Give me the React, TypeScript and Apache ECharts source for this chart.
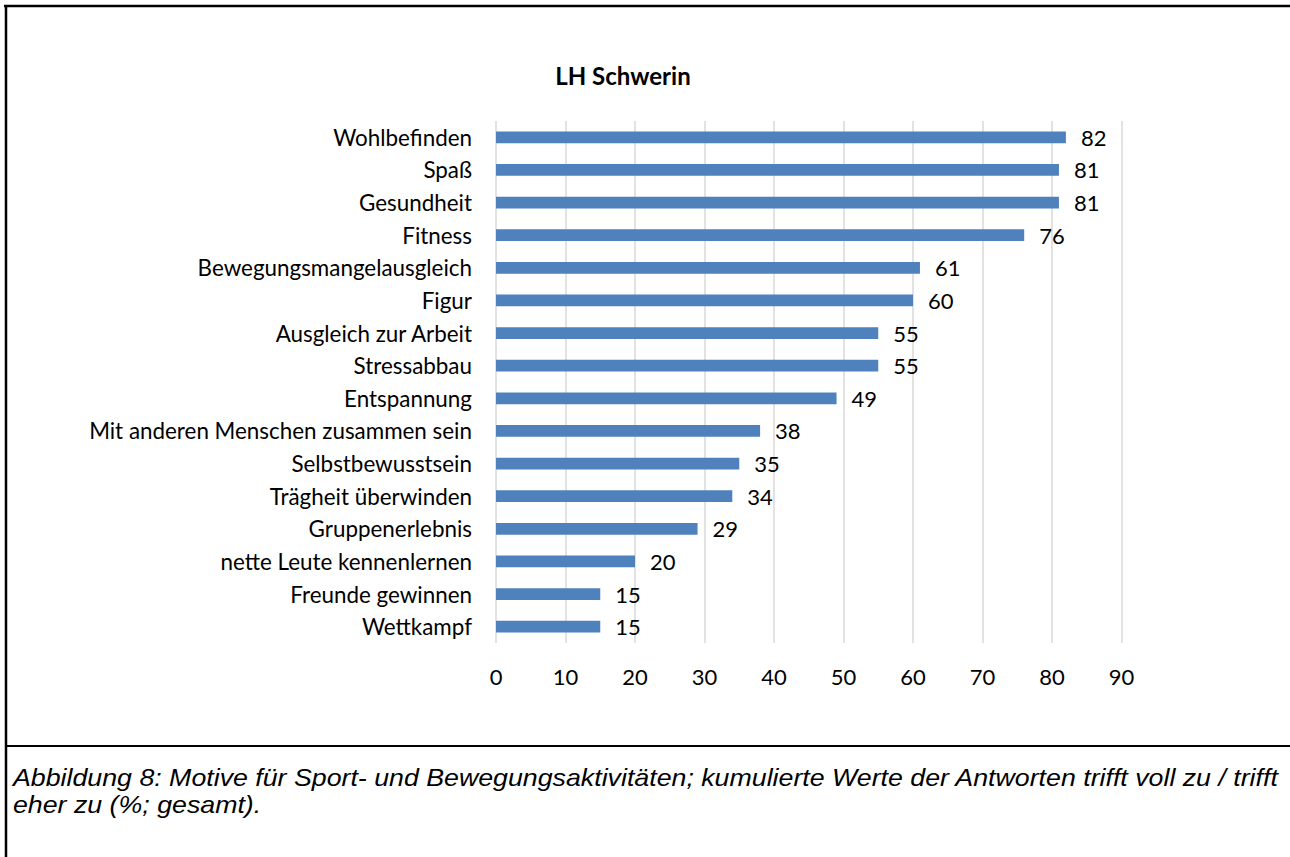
import React, { useEffect, useRef } from "react";
import * as echarts from "echarts";

const categories = [
  "Wohlbefinden",
  "Spaß",
  "Gesundheit",
  "Fitness",
  "Bewegungsmangelausgleich",
  "Figur",
  "Ausgleich zur Arbeit",
  "Stressabbau",
  "Entspannung",
  "Mit anderen Menschen zusammen sein",
  "Selbstbewusstsein",
  "Trägheit überwinden",
  "Gruppenerlebnis",
  "nette Leute kennenlernen",
  "Freunde gewinnen",
  "Wettkampf",
];
const values = [82, 81, 81, 76, 61, 60, 55, 55, 49, 38, 35, 34, 29, 20, 15, 15];
const title = "LH Schwerin";
const caption1 =
  "Abbildung 8: Motive für Sport- und Bewegungsaktivitäten; kumulierte Werte der Antworten trifft voll zu / trifft";
const caption2 = "eher zu (%; gesamt).";

const FONT = "Lato, 'Open Sans', sans-serif";

export default function App() {
  const ref = useRef<HTMLDivElement>(null);
  useEffect(() => {
    if (!ref.current) return;
    const chart = echarts.init(ref.current, null, { renderer: "svg" });
    chart.setOption({
      animation: false,
      backgroundColor: "#ffffff",
      title: {
        text: title,
        left: 618,
        top: 58,
        textAlign: "center",
        textStyle: { fontFamily: FONT, fontSize: 24, fontWeight: "bold", color: "#000" },
      },
      grid: { left: 496, right: 168.5, top: 121, bottom: 214, containLabel: false },
      xAxis: {
        type: "value",
        min: 0,
        max: 90,
        interval: 10,
        axisLine: { show: false },
        axisTick: { show: false },
        splitLine: { show: true, lineStyle: { color: "#d9d9d9", width: 1.5 } },
        axisLabel: { fontFamily: FONT, fontSize: 22, color: "#000", margin: 22 },
      },
      yAxis: {
        type: "category",
        data: categories,
        inverse: true,
        axisLine: { show: false },
        axisTick: { show: false },
        axisLabel: { fontFamily: FONT, fontSize: 22.4, color: "#000", margin: 24 },
      },
      series: [
        {
          type: "bar",
          data: values,
          barWidth: "36%",
          itemStyle: { color: "#4f81bd" },
          label: {
            show: true,
            position: "right",
            distance: 15,
            fontFamily: FONT,
            fontSize: 22,
            color: "#000",
          },
        },
      ],
      graphic: [
        { type: "line", shape: { x1: 4, y1: 6, x2: 1290, y2: 6 }, style: { stroke: "#000", lineWidth: 2.5 } },
        { type: "line", shape: { x1: 6, y1: 5, x2: 6, y2: 857 }, style: { stroke: "#000", lineWidth: 2.5 } },
        { type: "line", shape: { x1: 5, y1: 746, x2: 1290, y2: 746 }, style: { stroke: "#000", lineWidth: 2 } },
        {
          type: "text",
          x: 13,
          y: 764,
          scaleX: 1.163,
          style: {
            text: caption1 + "\n" + caption2,
            fontFamily: "'Liberation Sans', Arial, sans-serif",
            fontStyle: "italic",
            fontSize: 23,
            lineHeight: 27,
            verticalAlign: "top",
            fill: "#000",
          },
        },
      ],
    });
    return () => chart.dispose();
  }, []);
  return (
    <div
      ref={ref}
      style={{ position: "fixed", left: 0, top: 0, width: 1290, height: 857 }}
    />
  );
}
